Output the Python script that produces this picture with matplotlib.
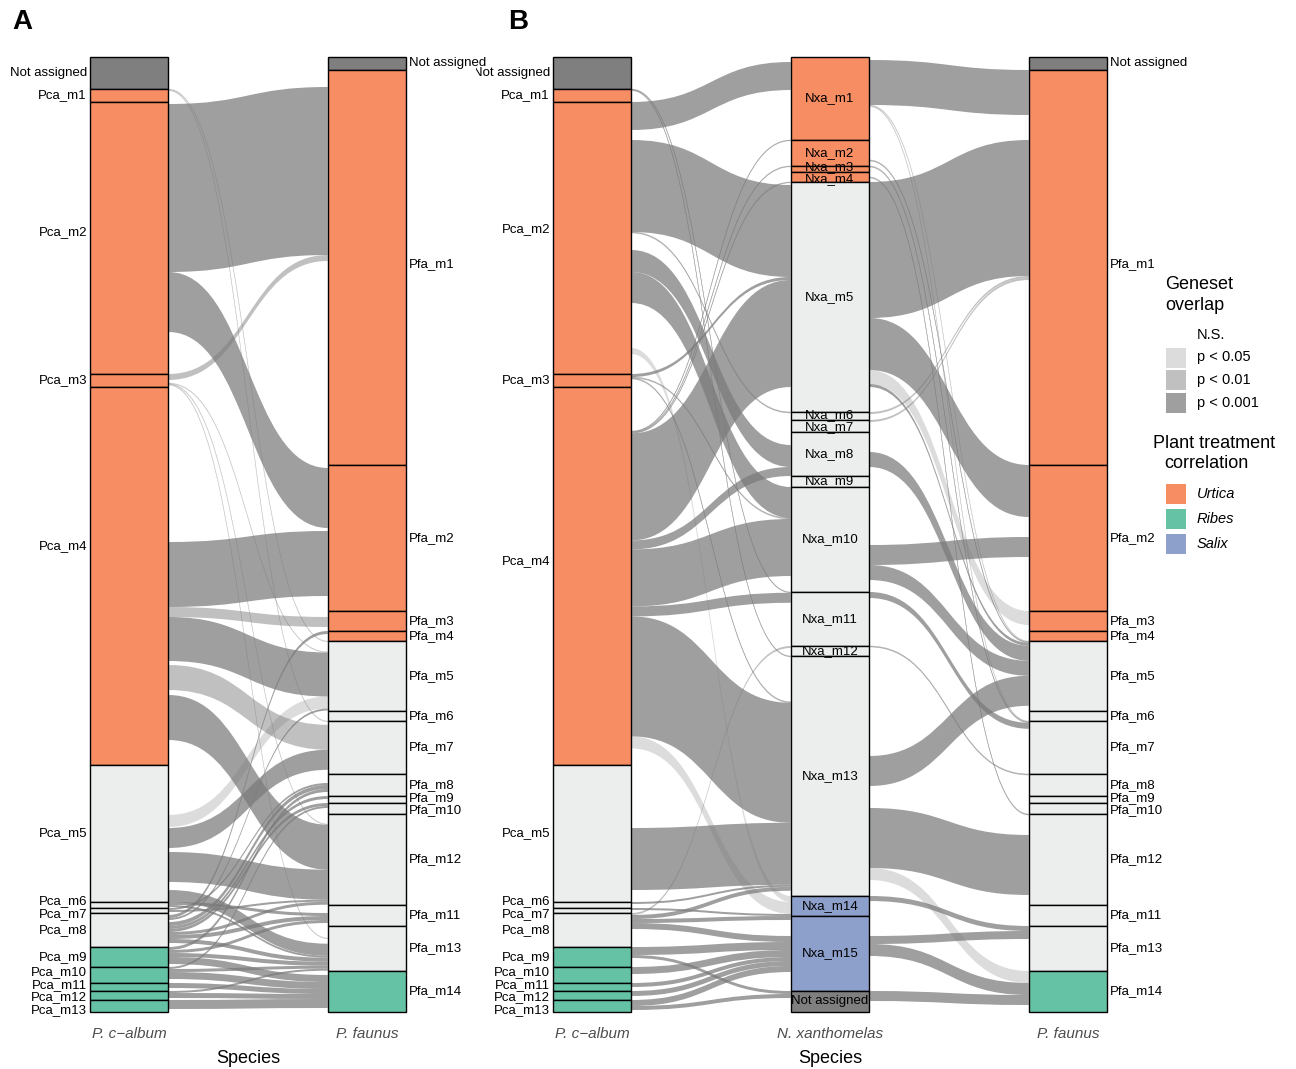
import numpy as np
import matplotlib.pyplot as plt
from matplotlib.path import Path
from matplotlib.patches import PathPatch, Rectangle

plt.rcParams['font.family'] = ['Liberation Sans', 'DejaVu Sans']

# ---- modules (top to bottom) and sizes (genes) ----
pca_modules = ['Not assigned', 'Pca_m1', 'Pca_m2', 'Pca_m3', 'Pca_m4', 'Pca_m5', 'Pca_m6',
               'Pca_m7', 'Pca_m8', 'Pca_m9', 'Pca_m10', 'Pca_m11', 'Pca_m12', 'Pca_m13']
pca_sizes = [32, 13, 272, 13, 378, 137, 6, 5, 34, 20, 16, 8, 9, 12]
pca_groups = ['unassigned', 'Urtica', 'Urtica', 'Urtica', 'Urtica', 'none', 'none',
              'none', 'none', 'Ribes', 'Ribes', 'Ribes', 'Ribes', 'Ribes']

pfa_modules = ['Not assigned', 'Pfa_m1', 'Pfa_m2', 'Pfa_m3', 'Pfa_m4', 'Pfa_m5', 'Pfa_m6',
               'Pfa_m7', 'Pfa_m8', 'Pfa_m9', 'Pfa_m10', 'Pfa_m12', 'Pfa_m11', 'Pfa_m13', 'Pfa_m14']
pfa_sizes = [13, 395, 146, 20, 10, 70, 10, 53, 22, 7, 11, 91, 21, 45, 41]
pfa_groups = ['unassigned', 'Urtica', 'Urtica', 'Urtica', 'Urtica', 'none', 'none',
              'none', 'none', 'none', 'none', 'none', 'none', 'none', 'Ribes']

nxa_modules = ['Nxa_m1', 'Nxa_m2', 'Nxa_m3', 'Nxa_m4', 'Nxa_m5', 'Nxa_m6', 'Nxa_m7', 'Nxa_m8',
               'Nxa_m9', 'Nxa_m10', 'Nxa_m11', 'Nxa_m12', 'Nxa_m13', 'Nxa_m14', 'Nxa_m15',
               'Not assigned']
nxa_sizes = [83, 26, 6, 10, 230, 8, 12, 44, 11, 105, 54, 10, 240, 20, 75, 21]
nxa_groups = ['Urtica', 'Urtica', 'Urtica', 'Urtica', 'none', 'none', 'none', 'none',
              'none', 'none', 'none', 'none', 'none', 'Salix', 'Salix', 'unassigned']

species_a = ['P. c\u2212album', 'P. faunus']
species_b = ['P. c\u2212album', 'N. xanthomelas', 'P. faunus']

# label nudges (repelled labels in the original), in genes
nudge_a = {'Pca_m2': -6, 'Pca_m4': -30, 'Pfa_m1': -3}
nudge_b = {'Pca_m2': -9, 'Pca_m4': -15, 'Pfa_m1': -3}

# ---- geneset overlaps: (source module, target module, genes, significance) ----
flows_a = [
    ('Not assigned', 'Pfa_m1', 17, 'ns'), ('Not assigned', 'Pfa_m2', 3, 'ns'),
    ('Pca_m1', 'Pfa_m5', 0.8, 'p05'), ('Pca_m1', 'Pfa_m7', 0.8, 'p05'),
    ('Pca_m2', 'Not assigned', 2, 'ns'), ('Pca_m2', 'Pfa_m1', 168, 'p001'),
    ('Pca_m2', 'Pfa_m2', 60, 'p001'), ('Pca_m2', 'Pfa_m3', 6, 'ns'),
    ('Pca_m2', 'Pfa_m5', 10, 'ns'), ('Pca_m2', 'Pfa_m7', 3, 'ns'),
    ('Pca_m2', 'Pfa_m12', 10, 'ns'), ('Pca_m2', 'Pfa_m13', 12, 'ns'),
    ('Pca_m3', 'Pfa_m1', 6, 'p01'), ('Pca_m3', 'Pfa_m2', 3, 'ns'),
    ('Pca_m3', 'Pfa_m5', 0.7, 'p05'), ('Pca_m3', 'Pfa_m12', 0.7, 'p05'),
    ('Pca_m3', 'Pfa_m13', 0.7, 'p05'),
    ('Pca_m4', 'Not assigned', 2, 'ns'), ('Pca_m4', 'Pfa_m1', 153, 'ns'),
    ('Pca_m4', 'Pfa_m2', 65, 'p001'), ('Pca_m4', 'Pfa_m3', 10, 'p01'),
    ('Pca_m4', 'Pfa_m5', 44, 'p001'), ('Pca_m4', 'Pfa_m6', 4, 'ns'),
    ('Pca_m4', 'Pfa_m7', 25, 'p01'), ('Pca_m4', 'Pfa_m8', 5, 'ns'),
    ('Pca_m4', 'Pfa_m12', 45, 'p001'), ('Pca_m4', 'Pfa_m13', 5, 'ns'),
    ('Pca_m4', 'Pfa_m14', 4, 'ns'),
    ('Pca_m5', 'Pfa_m1', 50, 'ns'), ('Pca_m5', 'Pfa_m5', 12, 'p05'),
    ('Pca_m5', 'Pfa_m6', 1, 'ns'), ('Pca_m5', 'Pfa_m7', 20, 'p001'),
    ('Pca_m5', 'Pfa_m8', 4, 'ns'), ('Pca_m5', 'Pfa_m12', 30, 'p001'),
    ('Pca_m5', 'Pfa_m11', 8, 'ns'), ('Pca_m5', 'Pfa_m13', 12, 'p001'),
    ('Pca_m6', 'Pfa_m11', 3, 'p001'), ('Pca_m6', 'Pfa_m13', 2, 'p001'),
    ('Pca_m7', 'Pfa_m8', 2, 'p001'), ('Pca_m7', 'Pfa_m12', 2, 'p001'),
    ('Pca_m8', 'Pfa_m1', 2, 'ns'), ('Pca_m8', 'Pfa_m4', 3, 'p001'),
    ('Pca_m8', 'Pfa_m5', 2, 'p001'), ('Pca_m8', 'Pfa_m6', 2, 'ns'),
    ('Pca_m8', 'Pfa_m8', 4, 'p001'), ('Pca_m8', 'Pfa_m9', 3, 'p001'),
    ('Pca_m8', 'Pfa_m10', 3, 'p001'), ('Pca_m8', 'Pfa_m12', 3, 'p001'),
    ('Pca_m8', 'Pfa_m11', 4, 'p001'), ('Pca_m8', 'Pfa_m13', 4, 'p001'),
    ('Pca_m9', 'Pfa_m8', 3, 'p001'), ('Pca_m9', 'Pfa_m11', 3, 'p001'),
    ('Pca_m9', 'Pfa_m13', 4, 'p001'), ('Pca_m9', 'Pfa_m14', 7, 'p001'),
    ('Pca_m10', 'Pfa_m10', 2, 'p001'), ('Pca_m10', 'Pfa_m13', 3, 'p001'),
    ('Pca_m10', 'Pfa_m14', 7, 'p001'),
    ('Pca_m11', 'Pfa_m14', 5, 'p001'),
    ('Pca_m12', 'Pfa_m13', 2, 'p001'), ('Pca_m12', 'Pfa_m14', 5, 'p001'),
    ('Pca_m13', 'Pfa_m14', 9, 'p001'),
]

flows_b1 = [
    ('Not assigned', 'Nxa_m1', 5, 'ns'), ('Not assigned', 'Nxa_m5', 3, 'ns'),
    ('Not assigned', 'Nxa_m8', 13, 'ns'),
    ('Pca_m1', 'Nxa_m11', 0.8, 'p01'), ('Pca_m1', 'Nxa_m13', 0.8, 'p01'),
    ('Pca_m2', 'Nxa_m1', 28, 'p001'), ('Pca_m2', 'Nxa_m4', 10, 'ns'),
    ('Pca_m2', 'Nxa_m5', 92, 'p001'), ('Pca_m2', 'Nxa_m6', 1, 'p01'),
    ('Pca_m2', 'Nxa_m7', 17, 'ns'), ('Pca_m2', 'Nxa_m8', 22, 'p001'),
    ('Pca_m2', 'Nxa_m10', 31, 'p001'), ('Pca_m2', 'Nxa_m13', 45, 'ns'),
    ('Pca_m2', 'Nxa_m14', 6, 'p05'),
    ('Pca_m3', 'Nxa_m5', 3, 'p001'), ('Pca_m3', 'Nxa_m10', 1, 'p01'),
    ('Pca_m3', 'Nxa_m13', 1, 'p01'),
    ('Pca_m4', 'Nxa_m1', 44, 'ns'), ('Pca_m4', 'Nxa_m2', 0.8, 'p01'),
    ('Pca_m4', 'Nxa_m3', 0.8, 'p01'), ('Pca_m4', 'Nxa_m4', 0.8, 'p01'),
    ('Pca_m4', 'Nxa_m5', 107, 'p001'), ('Pca_m4', 'Nxa_m8', 9, 'p001'),
    ('Pca_m4', 'Nxa_m10', 57, 'p001'), ('Pca_m4', 'Nxa_m11', 10, 'p001'),
    ('Pca_m4', 'Nxa_m13', 120, 'p001'), ('Pca_m4', 'Nxa_m14', 12, 'p05'),
    ('Pca_m5', 'Nxa_m10', 30, 'ns'), ('Pca_m5', 'Nxa_m11', 33, 'ns'),
    ('Pca_m5', 'Nxa_m13', 62, 'p001'), ('Pca_m5', 'Nxa_m15', 20, 'ns'),
    ('Pca_m6', 'Nxa_m13', 2, 'p001'), ('Pca_m7', 'Nxa_m14', 2, 'p001'),
    ('Pca_m8', 'Nxa_m12', 2, 'p01'), ('Pca_m8', 'Nxa_m13', 4, 'p001'),
    ('Pca_m8', 'Nxa_m14', 4, 'p001'), ('Pca_m8', 'Nxa_m15', 6, 'p001'),
    ('Pca_m9', 'Nxa_m15', 8, 'p001'), ('Pca_m9', 'Not assigned', 3, 'p001'),
    ('Pca_m10', 'Nxa_m15', 7, 'p001'), ('Pca_m11', 'Nxa_m15', 4, 'p001'),
    ('Pca_m12', 'Nxa_m15', 5, 'p001'), ('Pca_m13', 'Nxa_m15', 6, 'p001'),
    ('Pca_m13', 'Not assigned', 4, 'p001'),
]

flows_b2 = [
    ('Nxa_m1', 'Not assigned', 3, 'ns'), ('Nxa_m1', 'Pfa_m1', 45, 'p001'),
    ('Nxa_m1', 'Pfa_m5', 0.8, 'p05'), ('Nxa_m1', 'Pfa_m7', 0.8, 'p05'),
    ('Nxa_m2', 'Pfa_m1', 20, 'ns'), ('Nxa_m2', 'Pfa_m5', 1, 'p01'),
    ('Nxa_m3', 'Pfa_m7', 1, 'p01'),
    ('Nxa_m4', 'Pfa_m1', 5, 'ns'), ('Nxa_m4', 'Pfa_m12', 1, 'p01'),
    ('Nxa_m5', 'Pfa_m1', 136, 'p001'), ('Nxa_m5', 'Pfa_m2', 52, 'p001'),
    ('Nxa_m5', 'Pfa_m3', 14, 'p05'), ('Nxa_m5', 'Pfa_m5', 3, 'p001'),
    ('Nxa_m6', 'Pfa_m1', 2, 'p01'), ('Nxa_m7', 'Pfa_m1', 2, 'p01'),
    ('Nxa_m8', 'Pfa_m2', 20, 'ns'), ('Nxa_m8', 'Pfa_m5', 15, 'p001'),
    ('Nxa_m10', 'Pfa_m1', 58, 'ns'), ('Nxa_m10', 'Pfa_m2', 20, 'p001'),
    ('Nxa_m10', 'Pfa_m5', 15, 'p001'), ('Nxa_m10', 'Pfa_m12', 20, 'ns'),
    ('Nxa_m11', 'Pfa_m7', 6, 'p001'), ('Nxa_m12', 'Pfa_m8', 1, 'p01'),
    ('Nxa_m13', 'Pfa_m1', 100, 'ns'), ('Nxa_m13', 'Pfa_m5', 30, 'p001'),
    ('Nxa_m13', 'Pfa_m7', 22, 'ns'), ('Nxa_m13', 'Pfa_m12', 60, 'p001'),
    ('Nxa_m13', 'Pfa_m14', 12, 'p05'),
    ('Nxa_m14', 'Pfa_m13', 5, 'p001'),
    ('Nxa_m15', 'Pfa_m12', 20, 'ns'), ('Nxa_m15', 'Pfa_m13', 8, 'p001'),
    ('Nxa_m15', 'Pfa_m14', 12, 'p001'),
    ('Not assigned', 'Pfa_m14', 10, 'p001'),
]

group_colors = {'Urtica': '#F68D63', 'Ribes': '#66C2A5', 'Salix': '#8DA0CB',
                'none': '#ECEEED', 'unassigned': '#7F7F7F'}
flow_base = '#7A7A7A'
level_alpha = {'p05': 0.26, 'p01': 0.47, 'p001': 0.72}

W = 0.33          # stratum width (x units)
FIG_W, FIG_H = 1296, 1069
LABEL_SIZE = 9.5


def place_flows(flows, src_mods, src_sizes, tgt_mods, tgt_sizes):
    si = {m: i for i, m in enumerate(src_mods)}
    ti = {m: i for i, m in enumerate(tgt_mods)}
    s_top = dict(zip(src_mods, np.concatenate([[0], np.cumsum(src_sizes)[:-1]])))
    t_top = dict(zip(tgt_mods, np.concatenate([[0], np.cumsum(tgt_sizes)[:-1]])))
    y0 = [0.0] * len(flows)
    y1 = [0.0] * len(flows)
    for k in sorted(range(len(flows)), key=lambda k: (si[flows[k][0]], ti[flows[k][1]])):
        y0[k] = s_top[flows[k][0]]
        s_top[flows[k][0]] += flows[k][2]
    for k in sorted(range(len(flows)), key=lambda k: (ti[flows[k][1]], si[flows[k][0]])):
        y1[k] = t_top[flows[k][1]]
        t_top[flows[k][1]] += flows[k][2]
    return y0, y1


def draw_flows(ax, xs, xt, flows, src, tgt):
    y0, y1 = place_flows(flows, src[0], src[1], tgt[0], tgt[1])
    a, b = xs + W / 2, xt - W / 2
    xm = (a + b) / 2
    for (s, t, n, lvl), ya, yb in zip(flows, y0, y1):
        if lvl == 'ns':
            continue
        verts = [(a, ya), (xm, ya), (xm, yb), (b, yb), (b, yb + n),
                 (xm, yb + n), (xm, ya + n), (a, ya + n), (a, ya)]
        codes = [Path.MOVETO, Path.CURVE4, Path.CURVE4, Path.CURVE4, Path.LINETO,
                 Path.CURVE4, Path.CURVE4, Path.CURVE4, Path.CLOSEPOLY]
        thin = n < 1.5
        ax.add_patch(PathPatch(Path(verts, codes), facecolor=flow_base,
                               edgecolor=flow_base if thin else 'none',
                               lw=0.4 if thin else 0, alpha=level_alpha[lvl], zorder=1))


def spread(ys, gap, iters=60):
    ys = list(ys)
    for _ in range(iters):
        for i in range(len(ys) - 1):
            d = ys[i + 1] - ys[i]
            if d < gap:
                ys[i] -= (gap - d) / 2
                ys[i + 1] += (gap - d) / 2
    return ys


def draw_stack(ax, x, modules, sizes, groups, side, nudge, clip=False):
    tops = np.concatenate([[0], np.cumsum(sizes)[:-1]])
    for m, s, g, t in zip(modules, sizes, groups, tops):
        ax.add_patch(Rectangle((x - W / 2, t), W, s, facecolor=group_colors[g],
                               edgecolor='black', lw=1, zorder=3))
    centers = tops + np.array(sizes) / 2
    if side == 'center':
        for m, c in zip(modules, spread(centers, 12)):
            ax.text(x, c, m, ha='center', va='center', fontsize=LABEL_SIZE, zorder=4)
        return
    ys = spread([c + nudge.get(m, 0) for m, c in zip(modules, centers)], 12.5)
    for m, c in zip(modules, ys):
        if side == 'left':
            ax.annotate(m, (x - W / 2, c), xytext=(-2, 0), textcoords='offset points',
                        ha='right', va='center', fontsize=LABEL_SIZE, annotation_clip=False,
                        clip_on=clip)
        else:
            ax.annotate(m, (x + W / 2, c), xytext=(2, 0), textcoords='offset points',
                        ha='left', va='center', fontsize=LABEL_SIZE, annotation_clip=False)


def make_axes(fig, px_left, px_right, x_first_px, step_px, nstacks):
    top_px, bot_px = 40, 1020
    ax = fig.add_axes([px_left / FIG_W, 1 - bot_px / FIG_H,
                       (px_right - px_left) / FIG_W, (bot_px - top_px) / FIG_H])
    ax.patch.set_visible(False)
    ax.set_xlim((px_left - x_first_px) / step_px, (px_right - x_first_px) / step_px)
    ax.set_ylim(bot_px - 57, top_px - 57)
    for sp in ax.spines.values():
        sp.set_visible(False)
    ax.set_yticks([])
    ax.tick_params(axis='x', length=0, pad=5)
    mid = (nstacks - 1) / 2
    ax.set_xlabel('Species', fontsize=13)
    xl, xr = ax.get_xlim()
    ax.xaxis.set_label_coords((mid - xl) / (xr - xl), -0.031)
    return ax


fig = plt.figure(figsize=(FIG_W / 100, FIG_H / 100), dpi=100)

pca = (pca_modules, pca_sizes)
pfa = (pfa_modules, pfa_sizes)
nxa = (nxa_modules, nxa_sizes)

# ---- panel A ----
axA = make_axes(fig, 0, 496, 129, 238, 2)
draw_flows(axA, 0, 1, flows_a, pca, pfa)
draw_stack(axA, 0, pca_modules, pca_sizes, pca_groups, 'left', nudge_a)
draw_stack(axA, 1, pfa_modules, pfa_sizes, pfa_groups, 'right', nudge_a)
axA.set_xticks([0, 1])
axA.set_xticklabels(species_a, fontsize=11, style='italic', color='#4D4D4D')

# ---- panel B ----
axB = make_axes(fig, 476, 1150, 592, 238, 3)
draw_flows(axB, 0, 1, flows_b1, pca, nxa)
draw_flows(axB, 1, 2, flows_b2, nxa, pfa)
draw_stack(axB, 0, pca_modules, pca_sizes, pca_groups, 'left', nudge_b, clip=True)
draw_stack(axB, 1, nxa_modules, nxa_sizes, nxa_groups, 'center', nudge_b)
draw_stack(axB, 2, pfa_modules, pfa_sizes, pfa_groups, 'right', nudge_b)
axB.set_xticks([0, 1, 2])
axB.set_xticklabels(species_b, fontsize=11, style='italic', color='#4D4D4D')

# ---- panel letters ----
fig.text(22 / FIG_W, 1 - 22 / FIG_H, 'A', fontsize=20, fontweight='bold', ha='center', va='center')
fig.text(518 / FIG_W, 1 - 22 / FIG_H, 'B', fontsize=20, fontweight='bold', ha='center', va='center')


# ---- legends ----
def ftext(px, py, s, **kw):
    fig.text(px / FIG_W, 1 - py / FIG_H, s, va='center', **kw)


def fbox(px, py, color, alpha=1.0):
    fig.add_artist(Rectangle((px / FIG_W, 1 - (py + 10) / FIG_H), 20 / FIG_W, 20 / FIG_H,
                             transform=fig.transFigure, facecolor=color, alpha=alpha,
                             edgecolor='none'))


ftext(1165, 285, 'Geneset', fontsize=13)
ftext(1165, 306, 'overlap', fontsize=13)
sig_labels = ['N.S.', 'p < 0.05', 'p < 0.01', 'p < 0.001']
sig_levels = ['ns', 'p05', 'p01', 'p001']
for i, (lab, lvl) in enumerate(zip(sig_labels, sig_levels)):
    y = 335 + 22.5 * i
    if lvl != 'ns':
        fbox(1166, y, flow_base, level_alpha[lvl])
    ftext(1197, y, lab, fontsize=10.5)

ftext(1153, 443, 'Plant treatment', fontsize=13)
ftext(1164, 464, 'correlation', fontsize=13)
for i, g in enumerate(['Urtica', 'Ribes', 'Salix']):
    y = 494 + 25 * i
    fbox(1166, y, group_colors[g])
    ftext(1197, y, g, fontsize=10.5, style='italic')

fig.savefig('out.png', dpi=100)
